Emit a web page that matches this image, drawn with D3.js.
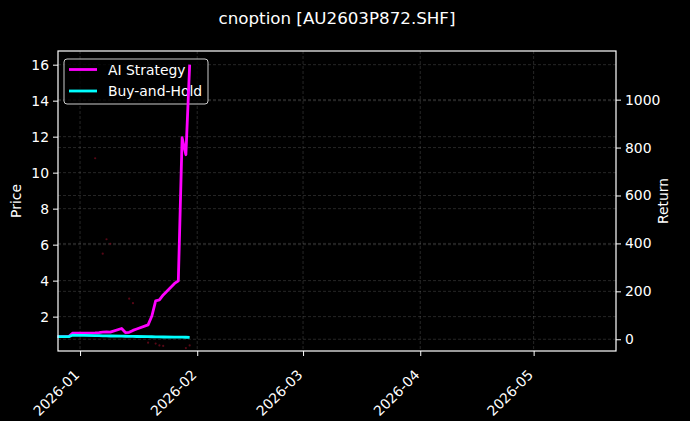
<!DOCTYPE html>
<html>
<head>
<meta charset="utf-8">
<script src="https://cdn.jsdelivr.net/npm/d3@7"></script>
<style>
  html, body { margin: 0; padding: 0; background: #000; }
  svg { display: block; font-family: 'DejaVu Sans', sans-serif; }
</style>
</head>
<body>
<svg id="chart"></svg>
<script>
'use strict';

// trading days shown on the chart
const dates = ['2025-12-26', '2025-12-29', '2025-12-30', '2025-12-31', '2026-01-02',
  '2026-01-05', '2026-01-06', '2026-01-07', '2026-01-08', '2026-01-09',
  '2026-01-12', '2026-01-13', '2026-01-14', '2026-01-15', '2026-01-16',
  '2026-01-19', '2026-01-20', '2026-01-21', '2026-01-22', '2026-01-23',
  '2026-01-26', '2026-01-27', '2026-01-28', '2026-01-29', '2026-01-30'];

// return series (right axis)
const aiStrategy = [11, 11, 25, 26, 26, 27, 28, 30, 31, 30, 45, 28, 29, 37, 43,
  60, 97, 160, 164, 185, 233, 244, 841, 770, 1146];
const buyHold = [11, 11, 17, 16.5, 16, 15.5, 15, 14.5, 14, 13.5, 13, 12.5, 12,
  11.8, 11.5, 11, 10.5, 10, 9.8, 9.5, 9.2, 9, 8.7, 8.4, 8.2];

// faint price points (left axis)
const priceDates = ['2026-01-05', '2026-01-07', '2026-01-08', '2026-01-09',
  '2026-01-14', '2026-01-15', '2026-01-19', '2026-01-21', '2026-01-22',
  '2026-01-23', '2026-01-29', '2026-01-30'];
const prices = [10.8, 5.5, 6.3, 6.05, 3.0, 2.75, 0.55, 0.5, 0.4, 0.37, 0.25, 0.4];

const priceTicks = [2, 4, 6, 8, 10, 12, 14, 16];
const returnTicks = [0, 200, 400, 600, 800, 1000];
const monthTicks = ['2026-01-01', '2026-02-01', '2026-03-01', '2026-04-01', '2026-05-01'];

const title = 'cnoption [AU2603P872.SHF]';
const seriesNames = ['AI Strategy', 'Buy-and-Hold'];
const seriesColors = ['#ff00ff', '#00ffff'];

const W = 690, H = 421;
const margin = { top: 51, left: 58, bottom: 70, right: 74 };
const width = W - margin.left - margin.right;
const height = H - margin.top - margin.bottom;

const parse = d3.utcParse('%Y-%m-%d');
const fmt = d3.utcFormat('%Y-%m');

const svg = d3.select('#chart').attr('width', W).attr('height', H);
svg.append('rect').attr('width', W).attr('height', H).attr('fill', '#000');

const graph = svg.append('g')
  .attr('transform', `translate(${margin.left}, ${margin.top})`);

const x = d3.scaleUtc()
  .domain([new Date(Date.UTC(2025, 11, 26, 4)), new Date(Date.UTC(2026, 4, 22, 19))])
  .range([0, width]);
const yL = d3.scaleLinear().domain([0.09, 16.76]).range([height, 0]);
const yR = d3.scaleLinear().domain([-49, 1203]).range([height, 0]);

const gridStyle = g => g.selectAll('line')
  .attr('stroke', '#ffffff').attr('stroke-opacity', 0.25)
  .attr('stroke-width', 0.6).attr('stroke-dasharray', '3,2');

// grids
graph.append('g').call(g => g.selectAll('line').data(monthTicks).enter().append('line')
  .attr('x1', d => x(parse(d))).attr('x2', d => x(parse(d)))
  .attr('y1', 0).attr('y2', height)).call(gridStyle);
graph.append('g').call(g => g.selectAll('line').data(priceTicks).enter().append('line')
  .attr('x1', 0).attr('x2', width)
  .attr('y1', d => yL(d)).attr('y2', d => yL(d))).call(gridStyle);
graph.append('g').call(g => g.selectAll('line').data(returnTicks).enter().append('line')
  .attr('x1', 0).attr('x2', width)
  .attr('y1', d => yR(d)).attr('y2', d => yR(d))).call(gridStyle);

// price points
graph.append('g')
  .selectAll('circle')
  .data(priceDates.map((d, i) => ({ date: parse(d), v: prices[i] })))
  .enter().append('circle')
  .attr('cx', d => x(d.date))
  .attr('cy', d => yL(d.v))
  .attr('r', 1.1)
  .attr('fill', '#7a0a1e')
  .attr('fill-opacity', 0.7);

// legend (belongs to price axes, lines are drawn over it)
const legend = graph.append('g').attr('transform', 'translate(6, 8)');
legend.append('rect')
  .attr('width', 144).attr('height', 45).attr('rx', 3)
  .attr('fill', '#000').attr('fill-opacity', 0.8)
  .attr('stroke', '#cccccc').attr('stroke-width', 1);
seriesNames.forEach((name, i) => {
  const row = legend.append('g').attr('transform', `translate(0, ${10.5 + i * 21.5})`);
  row.append('line').attr('x1', 5).attr('x2', 33).attr('y1', 0).attr('y2', 0)
    .attr('stroke', seriesColors[i]).attr('stroke-width', 2.8);
  row.append('text').attr('x', 44).attr('y', 5).attr('fill', '#fff')
    .attr('font-size', 13.9).text(name);
});

// return lines
const line = d3.line().x(d => x(d.date)).y(d => yR(d.v));
[aiStrategy, buyHold].forEach((vals, i) => {
  graph.append('path')
    .datum(dates.map((d, j) => ({ date: parse(d), v: vals[j] })))
    .attr('fill', 'none')
    .attr('stroke', seriesColors[i])
    .attr('stroke-width', 2.8)
    .attr('stroke-linejoin', 'round')
    .attr('d', line);
});

// axes
const styleAxis = g => {
  g.select('.domain').remove();
  g.selectAll('.tick line').attr('stroke', '#fff').attr('stroke-width', 1);
  g.selectAll('.tick text').attr('fill', '#fff').attr('font-size', 13.9)
    .attr('font-family', 'DejaVu Sans, sans-serif');
};

graph.append('g')
  .call(d3.axisLeft(yL).tickValues(priceTicks).tickSize(5).tickPadding(4).tickFormat(d3.format('d')))
  .call(styleAxis);

graph.append('g')
  .attr('transform', `translate(${width}, 0)`)
  .call(d3.axisRight(yR).tickValues(returnTicks).tickSize(5).tickPadding(4).tickFormat(d3.format('d')))
  .call(styleAxis);

const xAxis = graph.append('g')
  .attr('transform', `translate(0, ${height})`)
  .call(d3.axisBottom(x).tickValues(monthTicks.map(parse)).tickSize(5).tickFormat(fmt))
  .call(styleAxis);
xAxis.selectAll('.tick text')
  .attr('text-anchor', 'end')
  .attr('dy', 0)
  .attr('y', 0)
  .attr('transform', 'translate(-3, 22) rotate(-45)')
  .attr('dominant-baseline', 'middle');

// frame
graph.append('rect')
  .attr('width', width).attr('height', height)
  .attr('fill', 'none').attr('stroke', '#fff').attr('stroke-width', 1.2);

// labels
svg.append('text')
  .attr('x', margin.left + width / 2).attr('y', 24)
  .attr('text-anchor', 'middle').attr('fill', '#fff').attr('font-size', 16.7)
  .text(title);
svg.append('text')
  .attr('transform', `translate(21, ${margin.top + height / 2}) rotate(-90)`)
  .attr('text-anchor', 'middle').attr('fill', '#fff').attr('font-size', 13.9)
  .text('Price');
svg.append('text')
  .attr('transform', `translate(668, ${margin.top + height / 2}) rotate(-90)`)
  .attr('text-anchor', 'middle').attr('fill', '#fff').attr('font-size', 13.9)
  .text('Return');
</script>
</body>
</html>
